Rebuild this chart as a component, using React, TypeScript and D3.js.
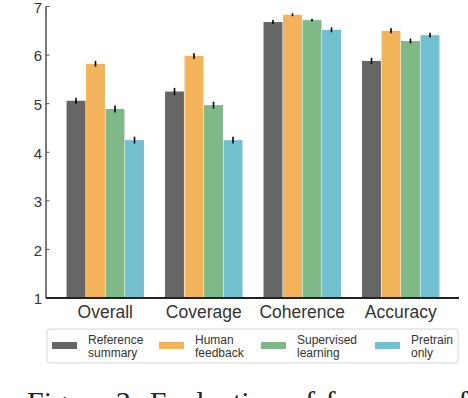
import React from 'react';
import * as d3 from 'd3';

const categories = ['Overall', 'Coverage', 'Coherence', 'Accuracy'];
const seriesNames = ['Reference summary', 'Human feedback', 'Supervised learning', 'Pretrain only'];
const legendLines = [['Reference', 'summary'], ['Human', 'feedback'], ['Supervised', 'learning'], ['Pretrain', 'only']];
const colors = ['#666666', '#f2b35b', '#7eb987', '#72c0cf'];

// values per series, in category order
const reference = [5.06, 5.25, 6.68, 5.88];
const human = [5.82, 5.98, 6.83, 6.50];
const supervised = [4.89, 4.97, 6.72, 6.29];
const pretrain = [4.25, 4.25, 6.52, 6.41];
const values = [reference, human, supervised, pretrain];

// error (half-width) per series
const refErr = [0.06, 0.075, 0.04, 0.065];
const humanErr = [0.06, 0.06, 0.03, 0.05];
const supErr = [0.07, 0.07, 0.03, 0.05];
const preErr = [0.07, 0.07, 0.05, 0.05];
const errors = [refErr, humanErr, supErr, preErr];

const yTicks = [1, 2, 3, 4, 5, 6, 7];

export default function App() {
    const width = 468, height = 398;
    const font = '"Liberation Sans", Arial, Helvetica, sans-serif';

    const x0 = d3.scaleBand().domain(categories).range([56, 450]).padding(0);
    const x1 = d3.scaleBand()
        .domain(seriesNames)
        .range([0, x0.bandwidth()])
        .paddingInner(0.03)
        .paddingOuter(0.54);
    const y = d3.scaleLinear().domain([1, 7]).range([298, 6.5]);

    const bars: any[] = [];
    categories.forEach((c, ci) => {
        seriesNames.forEach((s, si) => {
            bars.push({ c, s, si, v: values[si][ci], e: errors[si][ci] });
        });
    });

    const legendX = [52, 159, 261, 375];

    return (
        <div style={{ position: 'absolute', left: 0, top: 0, width, height, overflow: 'hidden', background: '#fff' }}>
            <svg width={width} height={height} style={{ display: 'block' }}>
                {/* bars */}
                {bars.map((b, i) => {
                    const bx = (x0(b.c) as number) + (x1(b.s) as number);
                    return (
                        <rect key={'b' + i} x={bx} y={y(b.v)} width={x1.bandwidth()}
                            height={y(1) - y(b.v)} fill={colors[b.si]} />
                    );
                })}
                {/* error bars */}
                {bars.map((b, i) => {
                    const cx = (x0(b.c) as number) + (x1(b.s) as number) + x1.bandwidth() / 2;
                    return (
                        <line key={'e' + i} x1={cx} x2={cx} y1={y(b.v - b.e)} y2={y(b.v + b.e)}
                            stroke="#000" strokeWidth={1.6} />
                    );
                })}
                {/* y axis */}
                <line x1={46} x2={46} y1={y(7)} y2={y(1)} stroke="#222" strokeWidth={1.2} />
                {yTicks.map(t => (
                    <g key={'t' + t}>
                        <line x1={46} x2={49.5} y1={y(t)} y2={y(t)} stroke="#555" strokeWidth={1} />
                        <text x={42} y={y(t)} dy="0.42em" textAnchor="end" fontFamily={font}
                            fontSize={15} fill="#333">{t}</text>
                    </g>
                ))}
                {/* x axis */}
                <line x1={46} x2={459} y1={y(1)} y2={y(1)} stroke="#222" strokeWidth={2} />
                {categories.map(c => (
                    <text key={c} x={(x0(c) as number) + x0.bandwidth() / 2} y={318}
                        textAnchor="middle" fontFamily={font} fontSize={17.5} fill="#333">{c}</text>
                ))}
                {/* legend */}
                <rect x={47} y={329} width={411} height={34} rx={3} fill="#fff" stroke="#d4d4d4" strokeWidth={1} />
                {seriesNames.map((s, i) => (
                    <g key={'l' + i}>
                        <rect x={legendX[i]} y={342} width={25} height={7} fill={colors[i]} />
                        <text x={legendX[i] + 36} y={343.5} fontFamily={font} fontSize={12} fill="#333">{legendLines[i][0]}</text>
                        <text x={legendX[i] + 36} y={356.5} fontFamily={font} fontSize={12} fill="#333">{legendLines[i][1]}</text>
                    </g>
                ))}
                {/* caption */}
                <text x={27} y={412} fontFamily='"Liberation Serif", "Times New Roman", serif' fontSize={30}
                    fill="#222" wordSpacing={3}>Figure 3: Evaluation of four ways for</text>
            </svg>
        </div>
    );
}
